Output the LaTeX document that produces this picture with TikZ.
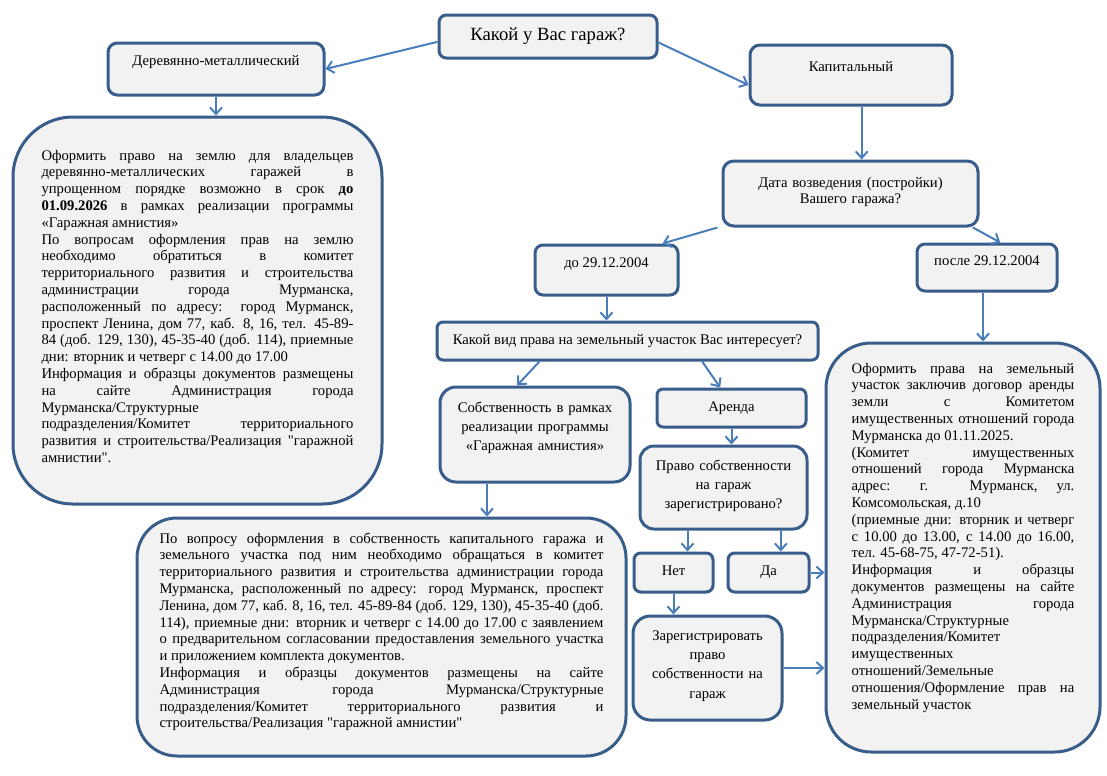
\documentclass[tikz,border=0pt]{standalone}
\usepackage{fontspec}
\setmainfont{Liberation Serif}[Ligatures=TeXOff]
\usetikzlibrary{arrows.meta}

\definecolor{boxline}{RGB}{56,93,138}
\definecolor{boxfill}{RGB}{242,242,242}
\definecolor{linkblue}{RGB}{74,126,187}

\newcommand{\nodefont}{\fontsize{11pt}{12.6pt}\selectfont}
\newcommand{\nodefontwide}{\fontsize{11pt}{14.6pt}\selectfont}

\tikzstyle{box} = [draw=boxline, fill=boxfill, line width=2.25pt, inner sep=0pt, rounded corners=6pt, font=\nodefont]
\tikzstyle{note} = [box, align=justify]
\tikzstyle{link} = [draw=linkblue, line width=1.5pt, -{Straight Barb[length=5pt,width=9pt]}]

\tolerance=10000
\hyphenpenalty=10000
\exhyphenpenalty=10000

\begin{document}
\begin{tikzpicture}[x=0.75pt, y=-0.75pt]
  \useasboundingbox (0,0) rectangle (1107,775);

  % question and garage type
  \node[box, font=\fontsize{14pt}{16pt}\selectfont, minimum width=163.5pt, text height=18.75pt, text depth=13.5pt, rounded corners=5.5pt] (garage) at (548,36.5) {Какой у Вас гараж?};
  \node[box, minimum width=162pt, text height=16.5pt, text depth=22.5pt, rounded corners=7pt] (wood) at (216,69) {Деревянно-металлический};
  \node[box, minimum width=151.5pt, text height=19.5pt, text depth=25.5pt, rounded corners=7.5pt] (capital) at (851,75) {Капитальный};

  % wooden garage
  \node[note, minimum width=276.75pt, text width=234pt, text height=32.25pt, text depth=258pt, rounded corners=45pt] (woodinfo) at (197.5,310.5) {%
    Оформить право на землю для владельцев\linebreak
    деревянно-металлических гаражей в\linebreak
    упрощенном порядке возможно в срок \textbf{до}\linebreak
    \textbf{01.09.2026} в рамках реализации программы\linebreak
    «Гаражная амнистия»\par
    По вопросам оформления прав на землю\linebreak
    необходимо обратиться в комитет\linebreak
    территориального развития и строительства\linebreak
    администрации города Мурманска,\linebreak
    расположенный по адресу: город Мурманск,\linebreak
    проспект Ленина, дом 77, каб. 8, 16, тел. 45-89-\linebreak
    84 (доб. 129, 130), 45-35-40 (доб. 114), приемные\linebreak
    дни: вторник и четверг с 14.00 до 17.00\par
    Информация и образцы документов размещены\linebreak
    на сайте Администрация города\linebreak
    Мурманска/Структурные\newline
    подразделения/Комитет территориального\linebreak
    развития и строительства/Реализация "гаражной\linebreak
    амнистии".};

  % capital garage
  \node[box, font=\fontsize{11pt}{12.25pt}\selectfont, align=center, minimum width=191.25pt, text width=186pt, text height=19.5pt, text depth=29.25pt, rounded corners=8pt] (date) at (850.5,193.5) {Дата возведения (постройки)\\Вашего гаража?};
  \node[box, minimum width=107.25pt, text height=16.5pt, text depth=21pt] (before) at (606.5,270) {до 29.12.2004};
  \node[box, minimum width=105pt, text height=15.75pt, text depth=19.5pt] (after) at (987,267.5) {после 29.12.2004};
  \node[box, minimum width=285.75pt, text height=16.5pt, text depth=12pt, rounded corners=4.5pt] (right) at (627.5,341) {Какой вид права на земельный участок Вас интересует?};

  \node[box, font=\nodefontwide, align=center, minimum width=142.5pt, text width=140pt, text height=18.75pt, text depth=52.5pt, rounded corners=12pt] (own) at (535,434.5) {Собственность в рамках\\реализации программы\\«Гаражная амнистия»};
  \node[box, minimum width=111.75pt, text height=16.5pt, text depth=12pt, rounded corners=4.5pt] (lease) at (731.5,408) {Аренда};
  \node[box, font=\nodefontwide, align=center, minimum width=125.25pt, text width=122pt, text height=18pt, text depth=44.25pt, rounded corners=10.5pt] (registered) at (723.5,487.5) {Право собственности\\на гараж\\зарегистрировано?};
  \node[box, minimum width=59.25pt, text height=16.5pt, text depth=12.75pt, rounded corners=5pt] (no) at (673.5,572.5) {Нет};
  \node[box, minimum width=60.75pt, text height=16.5pt, text depth=12.75pt, rounded corners=5pt] (yes) at (768.5,572.5) {Да};
  \node[box, font=\nodefontwide, align=center, minimum width=111.75pt, text width=110pt, text height=18pt, text depth=60pt, rounded corners=13pt] (register) at (707.5,668) {Зарегистрировать\\право\\собственности на\\гараж};

  \node[note, minimum width=366.75pt, text width=333pt, text height=18.75pt, text depth=159.75pt, rounded corners=30pt] (owninfo) at (381.5,637) {%
    По вопросу оформления в собственность капитального гаража и\linebreak
    земельного участка под ним необходимо обращаться в комитет\linebreak
    территориального развития и строительства администрации города\linebreak
    Мурманска, расположенный по адресу: город Мурманск, проспект\linebreak
    Ленина, дом 77, каб. 8, 16, тел. 45-89-84 (доб. 129, 130), 45-35-40 (доб.\linebreak
    114), приемные дни: вторник и четверг с 14.00 до 17.00 с заявлением\linebreak
    о предварительном согласовании предоставления земельного участка\linebreak
    и приложением комплекта документов.\par
    Информация и образцы документов размещены на сайте\linebreak
    Администрация города Мурманска/Структурные\linebreak
    подразделения/Комитет территориального развития и\linebreak
    строительства/Реализация "гаражной амнистии"};

  \node[note, minimum width=205.5pt, text width=167pt, text height=22.5pt, text depth=284.25pt, rounded corners=34pt] (leaseinfo) at (963,547.5) {%
    Оформить права на земельный\linebreak
    участок заключив договор аренды\linebreak
    земли с Комитетом\linebreak
    имущественных отношений города\linebreak
    Мурманска до 01.11.2025.\par
    (Комитет имущественных\linebreak
    отношений города Мурманска\linebreak
    адрес: г. Мурманск, ул.\linebreak
    Комсомольская, д.10\par
    (приемные дни: вторник и четверг\linebreak
    с 10.00 до 13.00, с 14.00 до 16.00,\linebreak
    тел. 45-68-75, 47-72-51).\par
    Информация и образцы\linebreak
    документов размещены на сайте\linebreak
    Администрация города\linebreak
    Мурманска/Структурные\newline
    подразделения/Комитет\newline
    имущественных\newline
    отношений/Земельные\newline
    отношения/Оформление прав на\linebreak
    земельный участок};

  % connectors
  \draw[link] ([yshift=-4pt]garage.west) -- (wood.east);
  \draw[link] ([yshift=-4.5pt]garage.east) -- ([yshift=-7.5pt]capital.west);
  \draw[link] (wood.south) -- (wood.south |- woodinfo.north);
  \draw[link] ([xshift=8pt]capital.south) -- ([xshift=8pt]capital.south |- date.north);
  \draw[link] ([xshift=-3pt]date.south west) -- ([xshift=42pt]before.north);
  \draw[link] ([xshift=-5pt]date.south east) -- ([xshift=10pt]after.north);
  \draw[link] ([xshift=-3pt]after.south) -- ([xshift=-3pt]after.south |- leaseinfo.north);
  \draw[link] (before.south) -- (before.south |- right.north);
  \draw[link] ([xshift=-66pt]right.south) -- ([xshift=-13.5pt]own.north);
  \draw[link] ([xshift=56pt]right.south) -- ([xshift=-8.5pt]lease.north);
  \draw[link] (lease.south) -- (lease.south |- registered.north);
  \draw[link] ([xshift=-27pt]registered.south) -- ([xshift=-27pt]registered.south |- no.north);
  \draw[link] ([xshift=43pt]registered.south) -- ([xshift=43pt]registered.south |- yes.north);
  \draw[link] (no.south) -- (no.south |- register.north);
  \draw[link] ([xshift=-36pt]own.south) -- ([xshift=-36pt]own.south |- owninfo.north);
  \draw[link] (yes.east) -- (yes.east -| leaseinfo.west);
  \draw[link] (register.east) -- (register.east -| leaseinfo.west);
\end{tikzpicture}
\end{document}
